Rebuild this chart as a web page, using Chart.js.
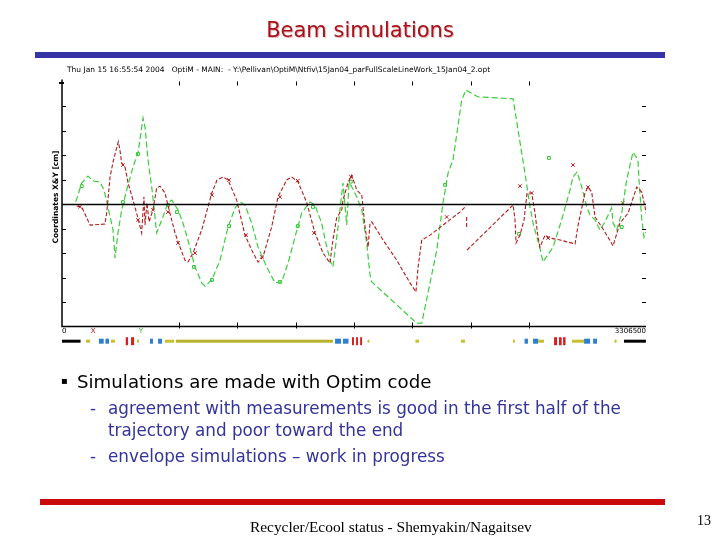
<!DOCTYPE html>
<html>
<head>
<meta charset="utf-8">
<script src="https://cdn.jsdelivr.net/npm/chart.js@4.4.1/dist/chart.umd.min.js"></script>
<style>
	body { margin: 0; width: 720px; height: 540px; background: #fff; position: relative; overflow: hidden; font-family: "DejaVu Sans", sans-serif; }
	#orbit { position: absolute; left: 0; top: 0; }
	.t { position: absolute; white-space: nowrap; }
	#title { left: 0; width: 720px; top: 18px; text-align: center; font-size: 21px; color: #a8121c; text-shadow: 1px 1px 0 #e2b8b8; }
	#bar-top { position: absolute; left: 35px; top: 52px; width: 630px; height: 6px; background: #3535a8; }
	#bar-bottom { position: absolute; left: 40px; top: 499px; width: 625px; height: 6px; background: #c80a0a; }
	.sub { color: #333399; font-size: 16.8px; }
</style>
</head>
<body>
<canvas id="orbit" width="720" height="540"></canvas>

<div class="t" id="title">Beam simulations</div>
<div id="bar-top"></div>

<div class="t" style="left:61px; top:375px; font-size:10px;">&#9642;</div>
<div class="t" style="left:77px; top:371px; font-size:18.2px; color:#000;">Simulations are made with Optim code</div>
<div class="t sub" style="left:90px; top:398px;">-</div>
<div class="t sub" style="left:108px; top:398px;">agreement with measurements is good in the first half of the</div>
<div class="t sub" style="left:108px; top:420px;">trajectory and poor toward the end</div>
<div class="t sub" style="left:90px; top:446px;">-</div>
<div class="t sub" style="left:108px; top:446px;">envelope simulations – work in progress</div>

<div id="bar-bottom"></div>
<div class="t" style="left:250px; top:518px; font-family:'Liberation Serif', serif; font-size:15.4px; color:#000;">Recycler/Ecool status - Shemyakin/Nagaitsev</div>
<div class="t" style="left:697px; top:513px; font-family:'Liberation Serif', serif; font-size:14px; color:#000;">13</div>

<script>
	// Орбита X (красная) — положение s [м], координата [см]
	var redS = [83,112,159,243,253,260,272,289,306,319,328,338,357,374,402,430,451,464,470,481,493,515,536,555,583,611,640,668,696,713,742,791,848,878,912,940,989,1036,1074,1110,1138,1187,1223,1272,1301,1336,1385,1432,1478,1517,1534,1555,1584,1591,1619,1640,1669,1697,1704,1716,1733,1744,1754,1818,1895,1970,2004,2016,2037,2084,2157,2253,2282,2286,2291,2291,2292,2293,2554,2565,2571,2593,2616,2633,2659,2678,2695,2706,2735,2763,2820,2905,2922,2943,2961,2978,2999,3018,3056,3091,3120,3159,3205,3254,3282,3301,3306];
	var redX = [-0.08,-0.13,-0.86,-0.82,-0.37,0.16,1.10,1.71,2.20,2.54,2.20,1.67,1.51,0.86,0.16,-0.57,-1.18,0.29,-0.86,0.04,-0.73,-0.24,0.65,0.73,0.45,-0.37,-1.18,-1.76,-2.29,-2.37,-2.00,-1.06,0.45,0.98,1.10,0.98,0.16,-1.27,-1.88,-2.37,-2.16,-0.94,0.29,0.98,1.10,0.90,0.08,-1.18,-2.00,-2.41,-1.47,-0.57,-0.24,0.16,0.86,1.18,0.57,0.37,-0.12,-0.94,-1.76,-0.78,-0.73,-1.47,-2.29,-3.22,-3.59,-2.57,-1.47,-1.27,-0.86,-0.33,-0.12,null,-0.53,-0.94,null,-1.88,-0.04,-0.65,-1.59,-1.27,-0.65,0.45,0.45,-0.37,-1.35,-1.76,-1.27,-1.39,-1.47,-1.63,-0.86,-0.16,0.45,0.69,0.49,-0.53,-0.94,-1.35,-1.71,-0.78,-0.37,0.69,0.49,-0.12,-0.37];

	// Орбита Y (зелёная)
	var greenS = [78,112,147,176,215,238,260,289,300,317,338,366,402,430,459,470,487,510,536,565,600,621,657,685,713,753,791,810,848,895,940,980,1008,1036,1074,1110,1159,1206,1244,1280,1319,1357,1404,1432,1470,1499,1523,1534,1563,1574,1591,1612,1625,1635,1669,1697,1725,1744,1754,2008,2037,2072,2122,2157,2186,2214,2263,2287,2355,2469,2554,2582,2621,2638,2650,2667,2706,2723,2780,2829,2876,2893,2916,2927,2943,2971,2990,3018,3046,3074,3112,3120,3141,3169,3197,3233,3261,3267,3282,3295,3306];
	var greenY = [0.09,0.86,1.14,0.94,0.90,0.57,-0.12,-1.06,-2.20,-1.18,-0.24,0.57,1.51,2.08,3.51,3.14,1.80,0.57,-1.18,-0.65,0.04,0.16,-0.24,-0.78,-1.47,-2.57,-3.22,-3.35,-3.10,-2.29,-0.94,-0.16,0.08,-0.04,-0.78,-1.76,-2.57,-3.22,-3.18,-2.41,-1.35,-0.37,0.08,-0.04,-0.78,-1.76,-2.41,-2.57,-0.94,-0.24,0.86,-0.86,0.86,0.78,0.29,-0.24,-1.59,-2.90,-3.18,-4.86,-4.86,-3.63,-1.88,0.04,1.27,1.80,4.24,4.65,4.37,4.33,4.29,3.02,1.27,0.45,-0.12,-0.78,-1.80,-2.37,-1.76,-0.65,0.57,1.10,1.31,1.06,0.69,-0.12,-0.45,-0.65,-1.06,-0.73,-0.16,-0.78,-1.06,-0.37,0.98,2.12,1.80,0.98,-0.57,-1.35,-1.14];

	// Измерения на BPM
	var redMarkS = [102,345,430,515,600,657,753,849,946,1042,1131,1234,1335,1427,1636,2178,2593,2659,2752,2893,2978,3175];
	var redMarkX = [-0.11,1.59,-0.65,-0.24,-0.33,-1.59,-2.00,0.37,0.98,-1.27,-2.16,0.29,0.95,-1.18,1.10,-0.53,0.73,0.45,-1.39,1.59,0.69,0.04];
	var greenMarkS = [112,345,430,600,651,747,849,946,1234,1335,1421,1635,2169,2588,2757,3169];
	var greenMarkY = [0.73,0.08,2.04,-0.04,-0.33,-2.57,-3.10,-0.90,-3.18,-0.90,-0.12,0.91,0.78,-1.22,1.88,-0.94];

	// Оси
	var sMax = 3306.5;
	var xTicks = [661.3, 991.95, 1322.6, 1653.25, 1983.9, 2314.55, 2645.2];
	var yTicks = [-4, -3, -2, -1, 1, 2, 3, 4];

	// Элементы структуры под графиком
	var latStart = [0,136,209,246,277,361,391,425,498,544,583,645,1546,1591,1642,1665,1688,1730,2001,2259,2554,2619,2667,2695,2786,2814,2837,2888,2956,3007,3128,3182];
	var latEnd = [105,159,236,266,300,374,408,436,515,566,634,1534,1580,1622,1653,1676,1699,1740,2021,2282,2565,2638,2695,2729,2803,2829,2851,2956,2990,3029,3140,3306];
	var latKind = ['k','y','b','b','y','r','r','y','b','b','y','o','b','b','r','r','r','y','y','y','y','b','b','y','r','r','r','y','b','b','y','k'];

	function zip(a, b){
		return a.map(function(v, i){ return {x: v, y: b[i]}; });
	}

	var latStyle = {
		k: {c: "#000000", h: 3},
		y: {c: "#c8bf2a", h: 3},
		o: {c: "#b9b22e", h: 3},
		b: {c: "#2f7fd0", h: 5},
		r: {c: "#d81e1e", h: 8}
	};

	var frame = {
		id: "frame",
		afterDatasetsDraw: function(chart){
			var ctx = chart.ctx, a = chart.chartArea;
			var xs = chart.scales.x, ys = chart.scales.y;
			ctx.save();

			// нулевая линия
			ctx.strokeStyle = "#000";
			ctx.lineWidth = 1.5;
			var y0 = Math.round(ys.getPixelForValue(0)) + 0.5;
			ctx.beginPath(); ctx.moveTo(a.left, y0); ctx.lineTo(a.right, y0); ctx.stroke();

			// оси слева и снизу
			ctx.lineWidth = 1.5;
			ctx.beginPath();
			ctx.moveTo(a.left, a.top - 2); ctx.lineTo(a.left, a.bottom); ctx.lineTo(a.right, a.bottom);
			ctx.stroke();

			// штрихи
			ctx.lineWidth = 1;
			xTicks.forEach(function(v){
				var px = Math.round(xs.getPixelForValue(v)) + 0.5;
				ctx.beginPath();
				ctx.moveTo(px, a.top); ctx.lineTo(px, a.top + 4);
				ctx.moveTo(px, a.bottom - 4); ctx.lineTo(px, a.bottom + 2);
				ctx.stroke();
			});
			yTicks.forEach(function(v){
				var py = Math.round(ys.getPixelForValue(v)) + 0.5;
				ctx.beginPath();
				ctx.moveTo(a.left, py); ctx.lineTo(a.left + 4, py);
				ctx.moveTo(a.right - 4, py); ctx.lineTo(a.right, py);
				ctx.stroke();
			});
			ctx.lineWidth = 2;
			ctx.beginPath(); ctx.moveTo(a.left - 3, a.top + 1.5); ctx.lineTo(a.left + 2, a.top + 1.5); ctx.stroke();

			// подписи
			ctx.fillStyle = "#000";
			ctx.font = "7.5px 'DejaVu Sans'";
			ctx.textBaseline = "middle";
			ctx.fillText("Thu Jan 15 16:55:54 2004   OptiM - MAIN:  - Y:\\Pellivan\\OptiM\\Ntfiv\\15Jan04_parFullScaleLineWork_15Jan04_2.opt", 67, 70, 436);

			ctx.font = "7px 'DejaVu Sans'";
			var yl = a.bottom + 5;
			ctx.textAlign = "left";
			ctx.fillText("0", a.left, yl);
			ctx.textAlign = "right";
			ctx.fillText("3306500", a.right, yl);
			ctx.textAlign = "center";
			ctx.fillStyle = "#b01818";
			ctx.fillText("X", xs.getPixelForValue(176), yl);
			ctx.fillStyle = "#22bb22";
			ctx.fillText("Y", xs.getPixelForValue(447), yl);

			ctx.fillStyle = "#000";
			ctx.font = "bold 7.5px 'DejaVu Sans'";
			ctx.translate(56, (a.top + a.bottom) / 2 - 7);
			ctx.rotate(-Math.PI / 2);
			ctx.fillText("Coordinates X&Y [cm]", 0, 0);
			ctx.setTransform(1, 0, 0, 1, 0, 0);

			// структура
			var yl2 = ys.getPixelForValue(-5.6);
			latStart.forEach(function(s, i){
				var st = latStyle[latKind[i]];
				var x1 = xs.getPixelForValue(s), x2 = xs.getPixelForValue(latEnd[i]);
				ctx.fillStyle = st.c;
				ctx.fillRect(x1, yl2 - st.h / 2, Math.max(1.5, x2 - x1), st.h);
			});
			ctx.restore();
		}
	};

	new Chart(document.getElementById("orbit"), {
		type: "scatter",
		data: {
			datasets: [{
				label: "X",
				data: zip(redS, redX),
				showLine: true,
				borderColor: "#b41c1c",
				borderWidth: 1.1,
				borderDash: [4, 2],
				pointRadius: 0,
				spanGaps: false
			}, {
				label: "Y",
				data: zip(greenS, greenY),
				showLine: true,
				borderColor: "#3ccd3c",
				borderWidth: 1.2,
				borderDash: [6, 3],
				pointRadius: 0
			}, {
				label: "X BPM",
				data: zip(redMarkS, redMarkX),
				pointStyle: "crossRot",
				pointRadius: 2.5,
				borderColor: "#c01818",
				borderWidth: 1
			}, {
				label: "Y BPM",
				data: zip(greenMarkS, greenMarkY),
				pointStyle: "rect",
				pointRadius: 2,
				borderColor: "#2fc42f",
				backgroundColor: "rgba(0,0,0,0)",
				borderWidth: 1
			}]
		},
		options: {
			responsive: false,
			animation: false,
			devicePixelRatio: 1,
			layout: {
				padding: {left: 62, right: 74, top: 81.5, bottom: 213.5}
			},
			scales: {
				x: {type: "linear", min: 0, max: sMax, display: false},
				y: {min: -5, max: 5, display: false}
			},
			plugins: {
				legend: {display: false},
				tooltip: {enabled: false}
			}
		},
		plugins: [frame]
	});
</script>
</body>
</html>
